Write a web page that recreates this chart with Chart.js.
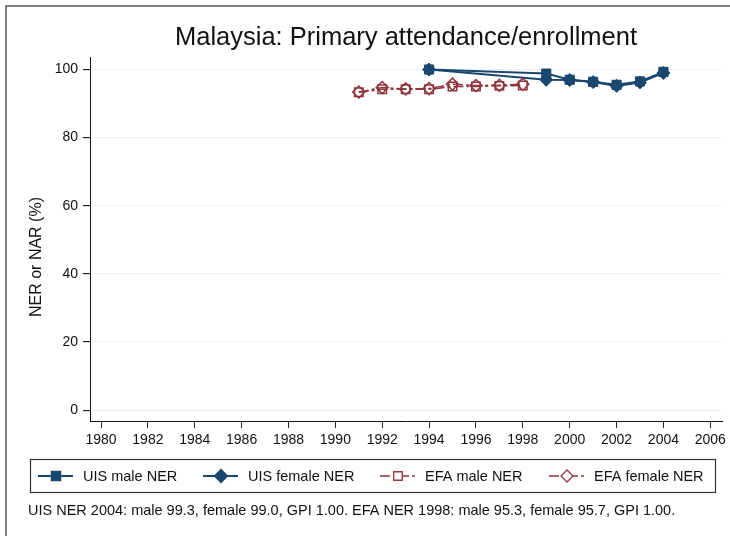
<!DOCTYPE html>
<html>
<head>
<meta charset="utf-8">
<script src="https://cdn.jsdelivr.net/npm/chart.js@4.4.1/dist/chart.umd.min.js"></script>
<style>
  html, body { margin: 0; padding: 0; background: #fff; }
</style>
</head>
<body>
<canvas id="chart" width="730" height="536"></canvas>
<script>
const titleText = 'Malaysia: Primary attendance/enrollment';
const yTitleText = 'NER or NAR (%)';
const noteText = 'UIS NER 2004: male 99.3, female 99.0, GPI 1.00. EFA NER 1998: male 95.3, female 95.7, GPI 1.00.';

const uisYears = [1994, 1999, 2000, 2001, 2002, 2003, 2004];
const uisMale = [100.0, 98.8, 97.0, 96.4, 95.5, 96.5, 99.3];
const uisFemale = [100.0, 97.0, 96.9, 96.3, 95.2, 96.2, 99.0];

const efaYears = [1991, 1992, 1993, 1994, 1995, 1996, 1997, 1998];
const efaMale = [93.3, 94.2, 94.2, 94.2, 95.0, 95.0, 95.2, 95.3];
const efaFemale = [93.4, 94.7, 94.3, 94.4, 95.7, 95.3, 95.4, 95.7];

const xTicks = [1980, 1982, 1984, 1986, 1988, 1990, 1992, 1994, 1996, 1998, 2000, 2002, 2004, 2006];
const yTicks = [0, 20, 40, 60, 80, 100];

const navy = '#1a476f';
const maroon = '#90353b';
const gridCol = '#eaf2f3';
const efaDash = [10, 3, 3, 3];
const font = '"Liberation Sans", Arial, sans-serif';

function pts(years, vals) {
  return years.map((yr, i) => ({ x: yr, y: vals[i] }));
}

// small marker painter, used for the legend keys
function marker(ctx, style, x, y, r, fill, stroke) {
  ctx.save();
  ctx.beginPath();
  if (style === 'rect') {
    const s = r * Math.SQRT1_2;
    ctx.rect(x - s, y - s, 2 * s, 2 * s);
  } else {
    ctx.moveTo(x, y - r);
    ctx.lineTo(x + r, y);
    ctx.lineTo(x, y + r);
    ctx.lineTo(x - r, y);
    ctx.closePath();
  }
  ctx.fillStyle = fill;
  ctx.fill();
  ctx.lineWidth = 1.3;
  ctx.strokeStyle = stroke;
  ctx.setLineDash([]);
  ctx.stroke();
  ctx.restore();
}

const legendX = [38, 203, 380, 549];

const framePlugin = {
  id: 'frame',
  afterDraw(chart) {
    const ctx = chart.ctx;
    ctx.save();
    // outer frame
    ctx.strokeStyle = '#555';
    ctx.lineWidth = 1.5;
    ctx.strokeRect(6, 6, 740, 550);

    // y axis title, centred a bit lower than the axis like the original
    ctx.save();
    ctx.translate(37, 257);
    ctx.rotate(-Math.PI / 2);
    ctx.fillStyle = '#111';
    ctx.font = '16px ' + font;
    ctx.textAlign = 'center';
    ctx.textBaseline = 'middle';
    ctx.fillText(yTitleText, 0, 0);
    ctx.restore();

    // legend box
    ctx.strokeStyle = '#333';
    ctx.lineWidth = 1.2;
    ctx.strokeRect(30.5, 459.5, 685, 33);

    const ly = 476;
    chart.data.datasets.forEach((ds, i) => {
      const x0 = legendX[i];
      ctx.save();
      ctx.strokeStyle = ds.borderColor;
      ctx.lineWidth = ds.borderWidth;
      ctx.setLineDash(ds.borderDash || []);
      ctx.beginPath();
      ctx.moveTo(x0, ly);
      ctx.lineTo(x0 + 35, ly);
      ctx.stroke();
      ctx.restore();
      marker(ctx, ds.pointStyle, x0 + 18, ly, ds.pointRadius, ds.pointBackgroundColor === 'rgba(0,0,0,0)' ? '#fff' : ds.pointBackgroundColor, ds.pointBorderColor);
      ctx.fillStyle = '#111';
      ctx.font = '14.5px ' + font;
      ctx.textBaseline = 'middle';
      ctx.textAlign = 'left';
      ctx.fillText(ds.label, x0 + 45, ly + 1);
    });

    // note
    ctx.fillStyle = '#111';
    ctx.font = '14.5px ' + font;
    ctx.textBaseline = 'middle';
    ctx.fillText(noteText, 28, 511);
    ctx.restore();
  }
};

const ctx = document.getElementById('chart').getContext('2d');

new Chart(ctx, {
  type: 'line',
  data: {
    datasets: [
      {
        label: 'UIS male NER',
        data: pts(uisYears, uisMale),
        borderColor: navy,
        borderWidth: 2,
        pointStyle: 'rect',
        pointRadius: 6.5,
        pointBackgroundColor: navy,
        pointBorderColor: navy,
        pointBorderWidth: 1,
        order: 4,
      },
      {
        label: 'UIS female NER',
        data: pts(uisYears, uisFemale),
        borderColor: navy,
        borderWidth: 2,
        pointStyle: 'rectRot',
        pointRadius: 6.5,
        pointBackgroundColor: navy,
        pointBorderColor: navy,
        pointBorderWidth: 1,
        order: 3,
      },
      {
        label: 'EFA male NER',
        data: pts(efaYears, efaMale),
        borderColor: maroon,
        borderWidth: 1.5,
        borderDash: efaDash,
        pointStyle: 'rect',
        pointRadius: 6,
        pointBackgroundColor: 'rgba(0,0,0,0)',
        pointBorderColor: maroon,
        pointBorderWidth: 1.5,
        order: 2,
      },
      {
        label: 'EFA female NER',
        data: pts(efaYears, efaFemale),
        borderColor: maroon,
        borderWidth: 1.5,
        borderDash: efaDash,
        pointStyle: 'rectRot',
        pointRadius: 6,
        pointBackgroundColor: 'rgba(0,0,0,0)',
        pointBorderColor: maroon,
        pointBorderWidth: 1.5,
        order: 1,
      },
    ],
  },
  options: {
    responsive: false,
    animation: false,
    layout: {
      padding: { left: 0, right: 8, top: 0, bottom: 85 },
    },
    scales: {
      x: {
        type: 'linear',
        min: 1979.53,
        max: 2006.5,
        afterBuildTicks: (scale) => {
          scale.ticks = xTicks.map((v) => ({ value: v }));
        },
        afterFit: (scale) => {
          scale.height = 30;
          scale.paddingLeft = 0;
          scale.paddingRight = 0;
        },
        grid: {
          drawOnChartArea: false,
          drawTicks: true,
          tickLength: 7,
          tickColor: '#222',
        },
        border: { display: true, color: '#111', width: 1 },
        ticks: {
          color: '#111',
          padding: 4,
          maxRotation: 0,
          autoSkip: false,
          font: { family: font, size: 14 },
          callback: (v) => String(v),
        },
      },
      y: {
        min: -3.2,
        max: 103.5,
        afterBuildTicks: (scale) => {
          scale.ticks = yTicks.map((v) => ({ value: v }));
        },
        afterFit: (scale) => {
          scale.width = 90;
          scale.paddingTop = 0;
          scale.paddingBottom = 0;
        },
        grid: {
          color: gridCol,
          lineWidth: 1.2,
          drawTicks: true,
          tickLength: 7,
          tickColor: '#222',
        },
        border: { display: true, color: '#111', width: 1 },
        ticks: {
          color: '#111',
          padding: 5,
          font: { family: font, size: 14 },
        },
      },
    },
    plugins: {
      legend: { display: false },
      tooltip: { enabled: false },
      title: {
        display: true,
        text: titleText,
        fullSize: false,
        color: '#111',
        padding: { top: 23, bottom: 4 },
        font: { family: font, size: 25.5, weight: 'normal' },
      },
    },
  },
  plugins: [framePlugin],
});
</script>
</body>
</html>
